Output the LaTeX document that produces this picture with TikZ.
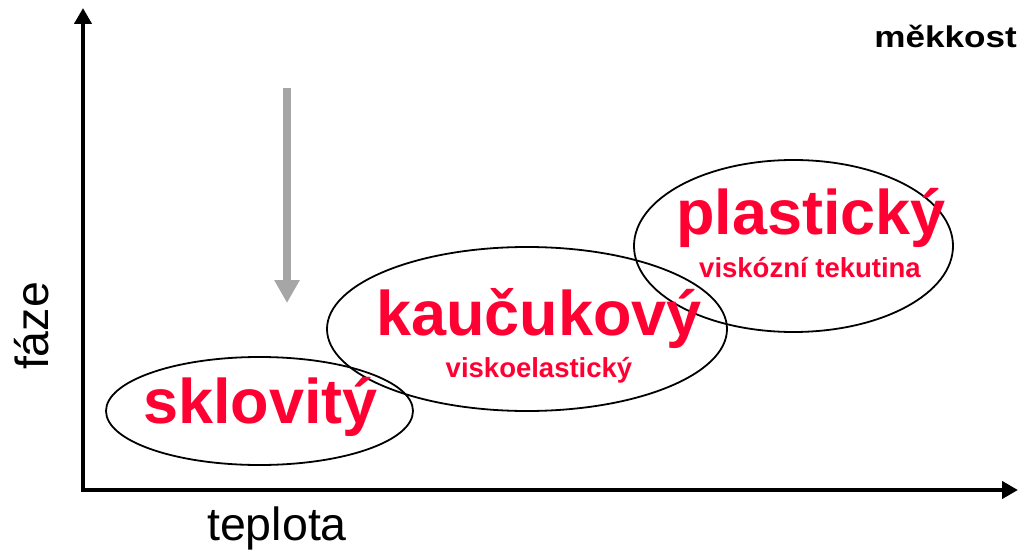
\documentclass[tikz,border=0pt]{standalone}
\usepackage{fontspec}
\setmainfont{Liberation Sans}
\usetikzlibrary{arrows.meta,shapes.geometric}
\definecolor{phasered}{HTML}{FF0033}
\definecolor{coolgrey}{HTML}{A6A6A6}
\tikzset{
  axis/.style={line width=4.5pt,-{Triangle[length=16pt,width=17pt]}},
  region/.style={draw=black,line width=1.8pt,ellipse,inner sep=0pt},
  phase/.style={text=phasered,font=\bfseries\fontsize{63}{70}\selectfont,anchor=base,inner sep=0pt},
  subphase/.style={text=phasered,font=\bfseries\fontsize{27.5}{32}\selectfont,anchor=base,inner sep=0pt},
  axislabel/.style={font=\fontsize{46.5}{52}\selectfont,inner sep=0pt},
  cooling/.style={coolgrey,line width=8pt,-{Triangle[length=23pt,width=24pt]}}
}
\begin{document}
\begin{tikzpicture}[x=1pt,y=-1pt]
  \useasboundingbox (0,0) rectangle (1019,553);

  % axes
  \coordinate (origin) at (83,490);
  \coordinate (ytop) at (83,8);
  \coordinate (xstart) at (81,490);
  \coordinate (xend) at (1018,490);
  \draw[axis] (origin) -- (ytop);
  \draw[axis] (xstart) -- (xend);

  % axis labels
  \node[axislabel,anchor=base] (temp) at (277,540) {teplota};
  \node[axislabel,anchor=base,rotate=90] (phaseaxis) at (48,326) {fáze};
  \node[font=\bfseries\fontsize{30}{34}\selectfont,anchor=base east,inner sep=0pt,xscale=1.17] (soft) at (1017,48) {měkkost};

  % cooling direction
  \coordinate (coolstart) at (287,88);
  \coordinate (coolend) at (287,303);
  \draw[cooling] (coolstart) -- (coolend);

  % phase regions
  \node[region,minimum width=307pt,minimum height=108pt] (glassy) at (259.5,411) {};
  \node[region,minimum width=400pt,minimum height=164pt] (rubbery) at (527,329) {};
  \node[region,minimum width=319pt,minimum height=172pt] (plastic) at (793.5,246) {};

  % region labels
  \node[phase] (glassytxt) at (260.5,423) {sklovitý};
  \node[phase] (rubberytxt) at (539,335) {kaučukový};
  \node[subphase] (rubberysub) at (539,377) {viskoelastický};
  \node[phase] (plastictxt) at (811,235) {plastický};
  \node[subphase] (plasticsub) at (810,277) {viskózní tekutina};
\end{tikzpicture}
\end{document}
